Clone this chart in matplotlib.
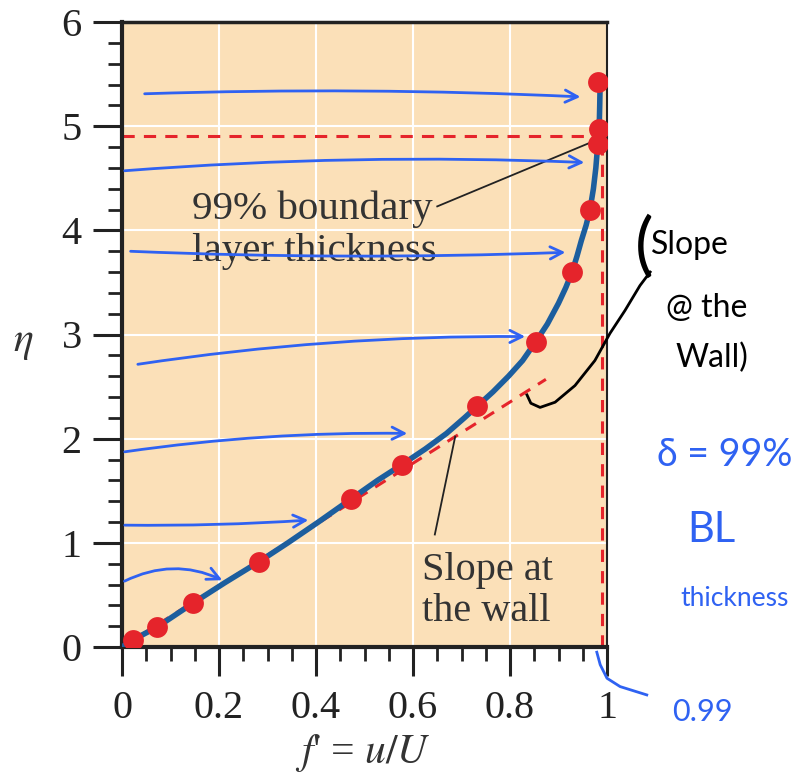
import numpy as np
import matplotlib
matplotlib.use('Agg')
import matplotlib.pyplot as plt
from matplotlib.ticker import MultipleLocator

plt.rcParams['font.family'] = ['Liberation Serif', 'DejaVu Serif']
plt.rcParams['mathtext.fontset'] = 'stix'

# Blasius profile
eta_curve = [0, 0.07, 0.19, 0.42, 0.62, 0.82, 1.0, 1.2, 1.42, 1.6, 1.75, 1.9, 2.05,
             2.2, 2.31, 2.45, 2.6, 2.75, 2.93, 3.1, 3.3, 3.45, 3.6, 3.75, 3.9, 4.05,
             4.2, 4.4, 4.6, 4.83, 5.0, 5.2, 5.45]
f_curve = [0, 0.023, 0.072, 0.146, 0.213, 0.283, 0.342, 0.405, 0.472, 0.527, 0.577,
           0.625, 0.669, 0.706, 0.732, 0.765, 0.797, 0.826, 0.853, 0.877, 0.900, 0.915,
           0.928, 0.938, 0.947, 0.957, 0.965, 0.972, 0.977, 0.981, 0.984, 0.985, 0.986]

# red data points
eta_pts = [0.07, 0.19, 0.42, 0.82, 1.42, 1.75, 2.31, 2.93, 3.60, 4.20, 4.83, 4.97, 5.42]
f_pts = [0.023, 0.072, 0.146, 0.283, 0.472, 0.577, 0.732, 0.853, 0.928, 0.965, 0.981, 0.984, 0.981]

delta_eta = 4.91
delta_f = 0.99
wall_slope = 2.94
wall_f_end = 0.874

# hand drawn blue arrows: (x0, y0, x1, y1, rad)
hand_arrows = [
    (0.041, 5.31, 0.951, 5.28, -0.02),
    (0.0, 4.57, 0.959, 4.65, -0.03),
    (0.012, 3.80, 0.92, 3.79, 0.02),
    (0.027, 2.71, 0.837, 2.98, -0.04),
    (0.0, 1.87, 0.594, 2.05, -0.04),
    (0.0, 1.17, 0.39, 1.22, 0.02),
    (0.0, 0.62, 0.212, 0.63, -0.25),
]
black_hand_x = [0.835, 0.843, 0.862, 0.893, 0.934, 0.975, 1.006, 1.037, 1.068, 1.089]
black_hand_y = [2.42, 2.34, 2.30, 2.35, 2.51, 2.75, 3.01, 3.23, 3.47, 3.60]
hook_x = [0.979, 0.986, 1.0, 1.027, 1.082]
hook_y = [-0.05, -0.17, -0.30, -0.38, -0.46]

fig = plt.figure(figsize=(8.01, 7.79), dpi=100)
ax = fig.add_axes([122/801, 1-647/779, 485/801, 625/779])
ax.set_facecolor('#FBE0B8')

ax.set_xlim(0, 1)
ax.set_ylim(0, 6)
ax.xaxis.set_major_locator(MultipleLocator(0.2))
ax.xaxis.set_minor_locator(MultipleLocator(0.05))
ax.yaxis.set_major_locator(MultipleLocator(1))
ax.yaxis.set_minor_locator(MultipleLocator(0.2))
ax.set_xticks([0, 0.2, 0.4, 0.6, 0.8, 1])
ax.set_xticklabels(['0', '0.2', '0.4', '0.6', '0.8', '1'])
ax.grid(True, which='major', color='white', lw=1.5)
ax.set_axisbelow(True)

ax.tick_params(which='major', length=21, width=2.2, labelsize=29, colors='#222', pad=8)
ax.tick_params(which='minor', length=10, width=2, color='#222')
ax.tick_params(axis='x', which='major', pad=10)
for s, w in zip(['left', 'bottom', 'top', 'right'], [3, 3, 2.5, 1.5]):
    ax.spines[s].set_linewidth(w)
    ax.spines[s].set_color('#222')

red = '#E5242B'
ax.plot([0, delta_f], [delta_eta, delta_eta], color=red, lw=2.2, dashes=(4, 3), zorder=2)
ax.plot([delta_f, delta_f], [0, delta_eta], color=red, lw=2.2, dashes=(4, 3), zorder=2)
ax.plot([0, wall_f_end], [0, wall_f_end * wall_slope], color=red, lw=2.2, dashes=(4, 3), zorder=2)

ax.plot(f_curve, eta_curve, color='#1C5E9E', lw=4, solid_joinstyle='round',
        solid_capstyle='round', zorder=3)
ax.plot(f_pts, eta_pts, 'o', color=red, ms=15, mec='none', zorder=4)

txt = '#333333'
ax.text(0.144, 4.0, '99% boundary\nlayer thickness', fontsize=29.5, color=txt,
        ha='left', va='center', linespacing=1.15)
ax.plot([0.65, 0.98], [4.23, 4.87], color='#222', lw=1.3, zorder=3)
ax.text(0.619, 0.54, 'Slope at\nthe wall', fontsize=29, color=txt,
        ha='left', va='center', linespacing=1.15)
ax.plot([0.645, 0.687], [1.08, 2.02], color='#222', lw=1.3, zorder=3)

ax.set_xlabel(r"$f$' = $u/U$", fontsize=30, color=txt, va='center')
ax.xaxis.set_label_coords(0.497, -0.17)
ax.set_ylabel(r'$\eta$', fontsize=30, color=txt, rotation=0, va='center')
ax.yaxis.set_label_coords(-0.204, 0.486)

# hand annotations
blue = '#2F62F2'
for x0, y0, x1, y1, rad in hand_arrows:
    ax.annotate('', xy=(x1, y1), xytext=(x0, y0),
                arrowprops=dict(arrowstyle='->', color=blue, lw=2,
                                mutation_scale=22,
                                connectionstyle='arc3,rad=%s' % rad),
                zorder=5)
ax.plot(black_hand_x, black_hand_y, color='black', lw=2, clip_on=False, zorder=5,
        solid_joinstyle='round')
ax.plot(hook_x, hook_y, color=blue, lw=2, clip_on=False, zorder=5, solid_joinstyle='round')

hand = ['Lato', 'DejaVu Sans']
fig.text(644/801, 1-247/779, '(', fontsize=50, family=hand, color='black',
         ha='center', va='center', fontweight='normal')
fig.text(690/801, 1-245/779, 'Slope', fontsize=23, family=hand, color='black', ha='center', va='center')
fig.text(707/801, 1-308/779, '@ the', fontsize=23, family=hand, color='black', ha='center', va='center')
fig.text(712/801, 1-358/779, 'Wall)', fontsize=23, family=hand, color='black', ha='center', va='center')
fig.text(725/801, 1-455/779, 'δ = 99%', fontsize=27, family=hand, color=blue, ha='center', va='center')
fig.text(711/801, 1-530/779, 'BL', fontsize=30, family=hand, color=blue, ha='center', va='center')
fig.text(735/801, 1-598/779, 'thickness', fontsize=19, family=hand, color=blue, ha='center', va='center')
fig.text(702/801, 1-712/779, '0.99', fontsize=22, family=hand, color=blue, ha='center', va='center')

fig.savefig('out.png', dpi=100)
